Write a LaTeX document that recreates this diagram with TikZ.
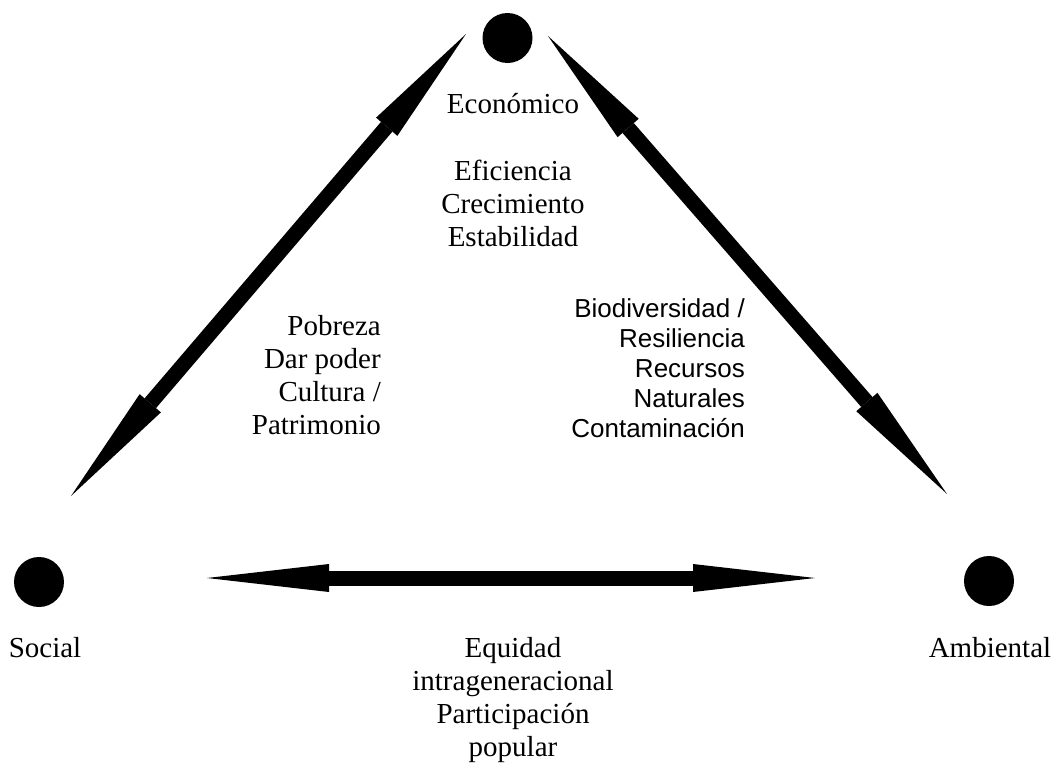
\documentclass[tikz,border=0pt]{standalone}
\usepackage{fontspec}
\setmainfont{Liberation Serif}
\newfontfamily\arialfont{Liberation Sans}
\usepackage{tikz}
\usetikzlibrary{arrows.meta}

\begin{document}
\begin{tikzpicture}
[x=1pt, y=-1pt,
<->/.style={line width=15pt, arrows={Triangle[length=122pt,width=28pt,line width=0pt]-Triangle[length=122pt,width=28pt,line width=0pt]}},
   pillarG/.style={shape=circle, fill=black, minimum size=50pt, inner sep=0pt},
   nameT/.style={font=\fontsize{29}{33}\selectfont, align=center, inner sep=0pt},
   envT/.style={font=\arialfont\fontsize{26}{30}\selectfont, align=right, inner sep=0pt}]
\useasboundingbox (0, 0) rectangle (1053, 763);
\node[pillarG] (Eco) at (507.5, 38) {};
\node[pillarG] (Soc) at (39, 582) {};
\node[pillarG] (Amb) at (989, 581) {};
% labels (base = last line)
\node[nameT, anchor=base] (EcoL) at (513, 113) {Económico};
\node[nameT, anchor=base] (SocL) at (45, 657) {Social};
\node[nameT, anchor=base] (AmbL) at (990, 657) {Ambiental};
\node[nameT, anchor=base] (EcoT) at (513, 246) {Eficiencia \\ Crecimiento \\ Estabilidad};
\node[nameT, align=right, anchor=base east] (SocT) at (381, 434)
{Pobreza \\ Dar poder \\ Cultura / \\ Patrimonio};
\node[envT, anchor=base east] (AmbT) at (745, 437)
{Biodiversidad / \\ Resiliencia \\ Recursos \\ Naturales \\ Contaminación};
\node[nameT, anchor=base] (EquT) at (513, 756)
{Equidad \\ intrageneracional \\ Participación \\ popular};
% arrow ends
\coordinate (SocN) at (71, 496);
\coordinate (EcoW) at (466, 34);
\coordinate (EcoE) at (548, 36);
\coordinate (AmbN) at (947, 494);
\coordinate (SocE) at (207, 578);
\coordinate (AmbW) at (815, 578);
\draw [<->] (SocN) -- (EcoW);
\draw [<->] (EcoE) -- (AmbN);
\draw [<->] (SocE) -- (AmbW);
\end{tikzpicture}
\end{document}
